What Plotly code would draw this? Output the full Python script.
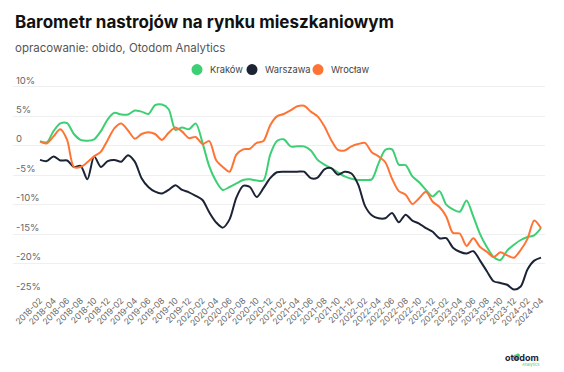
import plotly.graph_objects as go

months = [f"{y}-{m:02d}" for y in range(2018, 2025) for m in range(1, 13)]
months = months[months.index("2018-02"):months.index("2024-04") + 1]

krakow = [0.8, 0.6, 2.5, 3.8, 3.85, 2.0, 1.0, 0.85, 1.1, 2.5,
          4.5, 5.6, 5.3, 5.3, 6.0, 5.8, 5.4, 6.9, 7.0, 6.2,
          2.7, 3.1, 2.8, 3.8, 0.5, -3.5, -6.0, -7.5, -7.0, -6.4,
          -5.8, -5.7, -5.9, -5.9, -1.5, 0.8, 1.1, -0.1, -0.1, -0.1,
          -0.8, -2.4, -3.2, -3.8, -4.5, -5.2, -5.6, -5.8, -5.8, -5.7,
          -3.0, -0.7, -0.6, -3.2, -3.3, -5.2, -6.2, -7.5, -8.6, -7.7,
          -10.0, -10.8, -11.2, -9.3, -12.0, -15.0, -17.2, -18.9, -19.4, -17.8,
          -16.8, -16.0, -15.5, -15.2, -14.0]

warszawa = [-2.4, -2.6, -1.8, -2.5, -2.5, -3.6, -3.4, -5.7, -1.8, -3.6,
            -2.6, -2.4, -2.7, -1.6, -2.7, -5.5, -7.0, -7.8, -8.1, -7.5,
            -6.7, -7.5, -7.9, -8.5, -9.2, -11.3, -13.0, -13.9, -12.5, -8.8,
            -6.8, -7.0, -8.7, -7.2, -5.5, -4.5, -4.4, -4.4, -4.4, -4.4,
            -5.5, -5.4, -4.0, -3.8, -4.9, -4.4, -4.7, -6.6, -10.2, -11.8,
            -12.3, -12.3, -11.4, -13.0, -11.7, -12.7, -13.2, -14.0, -14.6, -15.7,
            -15.7, -17.3, -18.0, -18.3, -17.9, -19.5, -21.3, -23.0, -23.3, -23.6,
            -24.4, -23.9, -21.0, -19.5, -19.0]

wroclaw = [0.7, 0.4, 1.6, 2.8, 1.0, -3.6, -3.6, -2.8, -1.8, -1.0,
           1.0, 3.0, 3.8, 2.6, 1.2, 2.0, 2.3, 2.0, 1.0, 2.2,
           3.1, 2.4, 1.3, 1.5, 0.3, 0.8, -2.4, -3.6, -4.4, -1.5,
           -0.6, -0.5, 0.5, 0.8, 3.5, 5.0, 5.4, 6.0, 6.7, 6.8,
           5.8, 5.0, 3.3, 1.0, -0.7, -0.8, -0.1, 0.3, 0.5, -1.1,
           -1.8, -2.8, -5.6, -7.7, -8.3, -9.9, -8.9, -7.8, -9.5, -10.4,
           -12.0, -14.8, -14.9, -17.0, -15.7, -17.2, -18.0, -18.9, -18.1, -18.6,
           -19.0, -17.7, -15.8, -12.7, -14.0]

series_names = ["Kraków", "Warszawa", "Wrocław"]
series_values = [krakow, warszawa, wroclaw]
colors = ["#3dcf73", "#1b2335", "#ff7435"]

y_ticks = [-25, -20, -15, -10, -5, 0, 5, 10]
y_ticktext = ["-25%", "-20%", "-15%", "-10%", "-5%", "0", "5%", "10%"]
x_ticks = months[::2]

FONT = "Inter, 'Open Sans', sans-serif"

# plot area geometry (pixels)
L, R, T, B = 13, 545, 81.4, 292.7
W, H = 564, 372


def px(x):
    return (x - L) / (R - L)


def py(y):
    return (B - y) / (B - T)


fig = go.Figure()
for name, vals, col in zip(series_names, series_values, colors):
    fig.add_trace(go.Scatter(x=months, y=vals, mode="lines", name=name,
                             line=dict(color=col, width=2, shape="spline", smoothing=0.8),
                             showlegend=False, hoverinfo="skip"))

annotations = [
    dict(text="<b>Barometr nastrojów na rynku mieszkaniowym</b>", xref="paper", yref="paper",
         x=px(13), y=py(23), xanchor="left", yanchor="middle", showarrow=False,
         font=dict(size=17, color="#111", family=FONT)),
    dict(text="opracowanie: obido, Otodom Analytics", xref="paper", yref="paper",
         x=px(13), y=py(49), xanchor="left", yanchor="middle", showarrow=False,
         font=dict(size=11.5, color="#555", family=FONT)),
    dict(text="<b>otodom</b>", xref="paper", yref="paper",
         x=px(541), y=py(357), xanchor="right", yanchor="middle",
         showarrow=False, font=dict(size=9, color="#1b2335", family=FONT)),
    dict(text="Analytics", xref="paper", yref="paper",
         x=px(541), y=py(364), xanchor="right", yanchor="middle",
         showarrow=False, font=dict(size=4, color="#3dcf73", family=FONT)),
]
shapes = [
    dict(type="circle", xref="paper", yref="paper",
         x0=px(513), x1=px(519), y0=py(360), y1=py(354),
         fillcolor="#9aa0a6", line=dict(width=0)),
    dict(type="circle", xref="paper", yref="paper",
         x0=px(516), x1=px(520), y0=py(357), y1=py(353),
         fillcolor="#3dcf73", line=dict(width=0)),
]

# legend (dots + labels)
legend_dot_x = [197, 252, 318]
legend_y = 70
for name, col, lx in zip(series_names, colors, legend_dot_x):
    shapes.append(dict(type="circle", xref="paper", yref="paper",
                       x0=px(lx - 5.5), x1=px(lx + 5.5), y0=py(legend_y + 5.5), y1=py(legend_y - 5.5),
                       fillcolor=col, line=dict(width=0)))
    annotations.append(dict(text=name, xref="paper", yref="paper",
                            x=px(lx + 11), y=py(legend_y), xanchor="left", yanchor="middle",
                            showarrow=False, font=dict(size=9.3, color="#444", family=FONT)))

fig.update_layout(
    width=W, height=H,
    margin=dict(l=L, r=W - R, t=T, b=H - B, autoexpand=False),
    paper_bgcolor="white", plot_bgcolor="white",
    font=dict(family=FONT, color="#555"),
    showlegend=False,
    annotations=annotations,
    shapes=shapes,
)

fig.update_xaxes(type="category", categoryorder="array", categoryarray=months,
                 range=[-3.99, 74.59], tickvals=x_ticks, ticktext=x_ticks,
                 tickangle=-45, tickfont=dict(size=8.5, color="#666", family=FONT),
                 showgrid=False, zeroline=False, showline=False, ticks="")

fig.update_yaxes(range=[-25, 11], tickvals=y_ticks, ticktext=y_ticktext,
                 ticklabelposition="inside top", ticklabeloverflow="allow",
                 tickfont=dict(size=9.5, color="#666", family=FONT),
                 showgrid=True, gridcolor="#efefef", gridwidth=1,
                 zeroline=False, showline=False, ticks="")

fig.write_html("out.html", config={"displayModeBar": False},
               post_script="document.body.style.margin='0';document.body.style.overflow='hidden';")
